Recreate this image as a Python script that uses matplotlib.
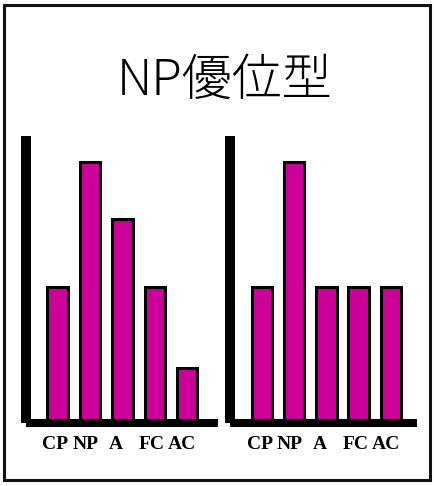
import matplotlib
matplotlib.use("Agg")
import matplotlib.pyplot as plt
from matplotlib.patches import Rectangle
from matplotlib.transforms import ScaledTranslation

categories = ["CP", "NP", "A", "FC", "AC"]
left_values = [5.2, 10.0, 7.8, 5.2, 2.1]
right_values = [5.2, 10.0, 5.2, 5.2, 5.2]
title = "NP優位型"

W, H = 435, 486
fig = plt.figure(figsize=(W / 100, H / 100), dpi=100)
fig.patch.set_facecolor("white")

label_shift_px = [-2, -4.5, -6.5, -3.5, -5]

def px_axes(x0, x1, ytop, ybot):
    return fig.add_axes([x0 / W, 1 - ybot / H, (x1 - x0) / W, (ybot - ytop) / H])

def draw_chart(ax, values, xlim):
    x = list(range(len(values)))
    ax.bar(x, values, width=0.63, color="#CC0099", edgecolor="black",
           linewidth=2.2, zorder=1)
    ax.set_xlim(*xlim)
    ax.set_ylim(0, 11)
    ax.set_xticks(x)
    ax.set_xticklabels(categories, fontfamily="Liberation Serif", fontsize=14,
                       fontweight="bold", color="black")
    ax.tick_params(axis="x", length=0, pad=9.6)
    for lab, dx in zip(ax.get_xticklabels(), label_shift_px):
        lab.set_transform(lab.get_transform() +
                          ScaledTranslation(dx / 100, 0, fig.dpi_scale_trans))
    ax.set_yticks([])
    for s in ("top", "right"):
        ax.spines[s].set_visible(False)
    ax.spines["left"].set_linewidth(7.2)
    ax.spines["bottom"].set_linewidth(5.8)
    for s in ("left", "bottom"):
        ax.spines[s].set_capstyle("butt")
        ax.spines[s].set_zorder(3)
    ax.patch.set_alpha(0)

ax1 = px_axes(26, 218, 136, 423)
draw_chart(ax1, left_values, (-0.97, 4.95))
ax2 = px_axes(230, 417, 136, 423)
draw_chart(ax2, right_values, (-0.99, 4.81))

fig.text(225 / W, 1 - 81 / H, title, ha="center", va="center", fontsize=36,
         fontfamily=["Noto Sans CJK JP", "DejaVu Sans"], fontweight="light",
         color="black")

border = Rectangle((4 / W, 1 - 479.5 / H), (430 - 4) / W, (479.5 - 5.5) / H,
                   transform=fig.transFigure, fill=False, edgecolor="#111111",
                   linewidth=2.2)
fig.patches.append(border)

fig.savefig("out.png", dpi=100)
